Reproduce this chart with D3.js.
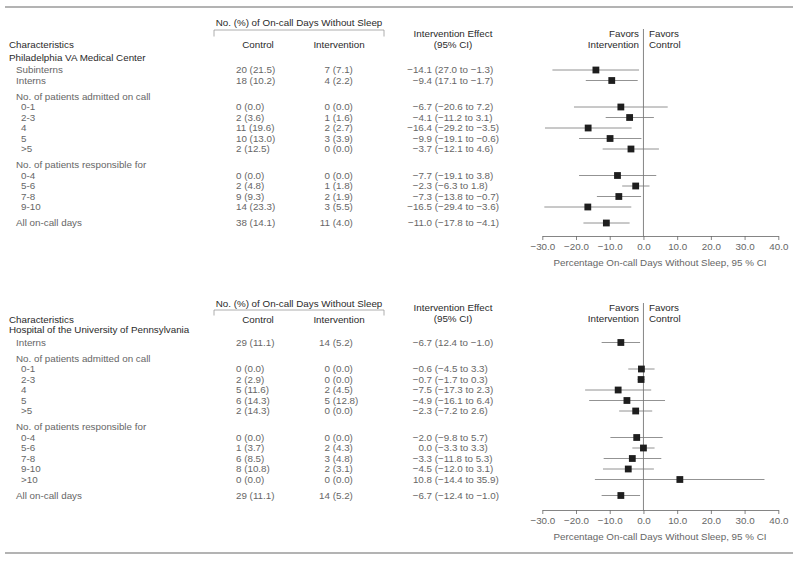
<!DOCTYPE html>
<html><head><meta charset="utf-8">
<script src="https://cdn.jsdelivr.net/npm/d3@7"></script>
<style>
body{margin:0;background:#fff;}
svg text{font-family:"Liberation Sans",Arial,Helvetica,sans-serif;font-size:9.8px;}
</style></head>
<body><svg id="c" width="800" height="561"></svg>
<script>
// ---------- DATA ----------
// row kind: g = group header, s = subheader, d = data row (indented), a = all on-call days
const vaKinds = ["g","d","d","s","d","d","d","d","d","s","d","d","d","d","a"];
const vaLabels = ["Philadelphia VA Medical Center","Subinterns","Interns","No. of patients admitted on call","0-1","2-3","4","5",">5","No. of patients responsible for","0-4","5-6","7-8","9-10","All on-call days"];
const vaControl = [null,"20 (21.5)","18 (10.2)",null,"0 (0.0)","2 (3.6)","11 (19.6)","10 (13.0)","2 (12.5)",null,"0 (0.0)","2 (4.8)","9 (9.3)","14 (23.3)","38 (14.1)"];
const vaIntervention = [null,"7 (7.1)","4 (2.2)",null,"0 (0.0)","1 (1.6)","2 (2.7)","3 (3.9)","0 (0.0)",null,"0 (0.0)","1 (1.8)","2 (1.9)","3 (5.5)","11 (4.0)"];
const vaEffectText = [null,"−14.1 (27.0 to −1.3)","−9.4 (17.1 to −1.7)",null,"−6.7 (−20.6 to 7.2)","−4.1 (−11.2 to 3.1)","−16.4 (−29.2 to −3.5)","−9.9 (−19.1 to −0.6)","−3.7 (−12.1 to 4.6)",null,"−7.7 (−19.1 to 3.8)","−2.3 (−6.3 to 1.8)","−7.3 (−13.8 to −0.7)","−16.5 (−29.4 to −3.6)","−11.0 (−17.8 to −4.1)"];
const vaEffect = [null,-14.1,-9.4,null,-6.7,-4.1,-16.4,-9.9,-3.7,null,-7.7,-2.3,-7.3,-16.5,-11.0];
const vaLow    = [null,-27.0,-17.1,null,-20.6,-11.2,-29.2,-19.1,-12.1,null,-19.1,-6.3,-13.8,-29.4,-17.8];
const vaHigh   = [null,-1.3,-1.7,null,7.2,3.1,-3.5,-0.6,4.6,null,3.8,1.8,-0.7,-3.6,-4.1];

const pennKinds = ["g","d","s","d","d","d","d","d","s","d","d","d","d","d","a"];
const pennLabels = ["Hospital of the University of Pennsylvania","Interns","No. of patients admitted on call","0-1","2-3","4","5",">5","No. of patients responsible for","0-4","5-6","7-8","9-10",">10","All on-call days"];
const pennControl = [null,"29 (11.1)",null,"0 (0.0)","2 (2.9)","5 (11.6)","6 (14.3)","2 (14.3)",null,"0 (0.0)","1 (3.7)","6 (8.5)","8 (10.8)","0 (0.0)","29 (11.1)"];
const pennIntervention = [null,"14 (5.2)",null,"0 (0.0)","0 (0.0)","2 (4.5)","5 (12.8)","0 (0.0)",null,"0 (0.0)","2 (4.3)","3 (4.8)","2 (3.1)","0 (0.0)","14 (5.2)"];
const pennEffectText = [null,"−6.7 (12.4 to −1.0)",null,"−0.6 (−4.5 to 3.3)","−0.7 (−1.7 to 0.3)","−7.5 (−17.3 to 2.3)","−4.9 (−16.1 to 6.4)","−2.3 (−7.2 to 2.6)",null,"−2.0 (−9.8 to 5.7)","0.0 (−3.3 to 3.3)","−3.3 (−11.8 to 5.3)","−4.5 (−12.0 to 3.1)","10.8 (−14.4 to 35.9)","−6.7 (−12.4 to −1.0)"];
const pennEffect = [null,-6.7,null,-0.6,-0.7,-7.5,-4.9,-2.3,null,-2.0,0.0,-3.3,-4.5,10.8,-6.7];
const pennLow    = [null,-12.4,null,-4.5,-1.7,-17.3,-16.1,-7.2,null,-9.8,-3.3,-11.8,-12.0,-14.4,-12.4];
const pennHigh   = [null,-1.0,null,3.3,0.3,2.3,6.4,2.6,null,5.7,3.3,5.3,3.1,35.9,-1.0];

const xTicks = [-30,-20,-10,0,10,20,30,40];
const headerGroup = "No. (%) of On-call Days Without Sleep";
const colHeaders = ["Characteristics","Control","Intervention"];
const effectHeader = ["Intervention Effect","(95% CI)"];
const favorsLeft = ["Favors","Intervention"];
const favorsRight = ["Favors","Control"];
const axisTitle = "Percentage On-call Days Without Sleep, 95 % CI";

// ---------- DRAW ----------
const svg = d3.select("#c");
const DARK = "#2a2a2a", MID = "#555", LIGHT = "#666";
const x = d3.scaleLinear().domain([-30,40]).range([542.3,778.3]);

// rules
svg.append("line").attr("x1",5).attr("x2",793).attr("y1",7).attr("y2",7).attr("stroke","#9a9a9a").attr("stroke-width",1.5);
svg.append("line").attr("x1",5).attr("x2",793).attr("y1",553).attr("y2",553).attr("stroke","#9a9a9a").attr("stroke-width",1.5);

function rowPositions(kinds, startY){
  const ys=[]; let y=startY;
  kinds.forEach((k,i)=>{
    if(i>0){
      const p=kinds[i-1];
      if(p==="g") y+=12.5;
      else if(k==="s"||k==="a") y+=16;
      else y+=10.5;
    }
    ys.push(y);
  });
  return ys;
}

function panel(o){
  const g = svg.append("g");
  const ys = rowPositions(o.kinds, o.firstRowY);
  const t = (txt,xx,yy,anchor,fill)=>g.append("text").attr("x",xx).attr("y",yy).attr("dy","0.35em")
      .attr("text-anchor",anchor||"start").attr("fill",fill||MID).text(txt);

  // header group + bracket
  t(headerGroup,299,o.headY,"middle",DARK);
  g.append("path").attr("d",`M214,${o.brY+o.brH}V${o.brY}H384V${o.brY+o.brH}`)
    .attr("fill","none").attr("stroke","#999").attr("stroke-width",0.8);
  t(colHeaders[0],9,o.colY,"start",DARK);
  t(colHeaders[1],258,o.colY,"middle",DARK);
  t(colHeaders[2],339,o.colY,"middle",DARK);
  t(effectHeader[0],453,o.effY,"middle",DARK);
  t(effectHeader[1],453,o.effY+11,"middle",DARK);
  t(favorsLeft[0],639,o.effY,"end",DARK);
  t(favorsLeft[1],639,o.effY+11,"end",DARK);
  t(favorsRight[0],649,o.effY,"start",DARK);
  t(favorsRight[1],649,o.effY+11,"start",DARK);

  let underSub = false;
  o.kinds.forEach((k,i)=>{
    const y=ys[i];
    if(k==="s") underSub = true;
    if(k==="g"||k==="a") underSub = false;
    const lx = k==="g"?9:(k==="d"&&underSub?21:16);
    t(o.labels[i],lx,y,"start",k==="g"?DARK:LIGHT);
    if(o.control[i]) t(o.control[i],236,y,"start",LIGHT);
    if(o.interv[i]){
      const j=o.interv[i].indexOf(" (");
      t(o.interv[i].slice(0,j),330,y,"end",LIGHT);
      g.append("text").attr("x",330).attr("y",y).attr("dy","0.35em").attr("fill",LIGHT)
        .style("white-space","pre").text(o.interv[i].slice(j));
    }
    if(o.effText[i]){
      const j=o.effText[i].indexOf(" (");
      t(o.effText[i].slice(0,j),432,y,"end",LIGHT);
      g.append("text").attr("x",432).attr("y",y).attr("dy","0.35em").attr("fill",LIGHT)
        .style("white-space","pre").text(o.effText[i].slice(j));
    }
  });

  // zero line
  g.append("line").attr("x1",x(0)).attr("x2",x(0)).attr("y1",o.zeroTop).attr("y2",o.axisY)
    .attr("stroke","#666").attr("stroke-width",0.8);

  // CI lines and markers
  o.kinds.forEach((k,i)=>{
    if(o.eff[i]===null) return;
    const y=ys[i];
    g.append("line").attr("x1",x(o.lo[i])).attr("x2",x(o.hi[i])).attr("y1",y).attr("y2",y)
      .attr("stroke","#777").attr("stroke-width",0.8);
    g.append("rect").attr("x",x(o.eff[i])-3.4).attr("y",y-3.4).attr("width",6.8).attr("height",6.8)
      .attr("fill","#1e1e1e");
  });

  // axis
  const ax = g.append("g").attr("transform",`translate(0,${o.axisY})`)
    .call(d3.axisBottom(x).tickValues(xTicks).tickFormat(d3.format(".1f")).tickSizeInner(4).tickSizeOuter(0).tickPadding(3));
  ax.select(".domain").attr("stroke","#666").attr("stroke-width",0.8);
  ax.selectAll(".tick line").attr("stroke","#666").attr("stroke-width",0.8);
  ax.selectAll(".tick text").attr("fill",LIGHT).style("font-size","9.8px").style("font-family",'"Liberation Sans",Arial,sans-serif');
  t(axisTitle,660,o.axisY+27,"middle",LIGHT);
}

panel({kinds:vaKinds,labels:vaLabels,control:vaControl,interv:vaIntervention,effText:vaEffectText,
  eff:vaEffect,lo:vaLow,hi:vaHigh,firstRowY:57.5,headY:23,brY:30,brH:6.5,colY:45,effY:34,zeroTop:29,axisY:236});
panel({kinds:pennKinds,labels:pennLabels,control:pennControl,interv:pennIntervention,effText:pennEffectText,
  eff:pennEffect,lo:pennLow,hi:pennHigh,firstRowY:330,headY:304,brY:310,brH:5.5,colY:320,effY:308,zeroTop:303,axisY:510});
</script></body></html>
